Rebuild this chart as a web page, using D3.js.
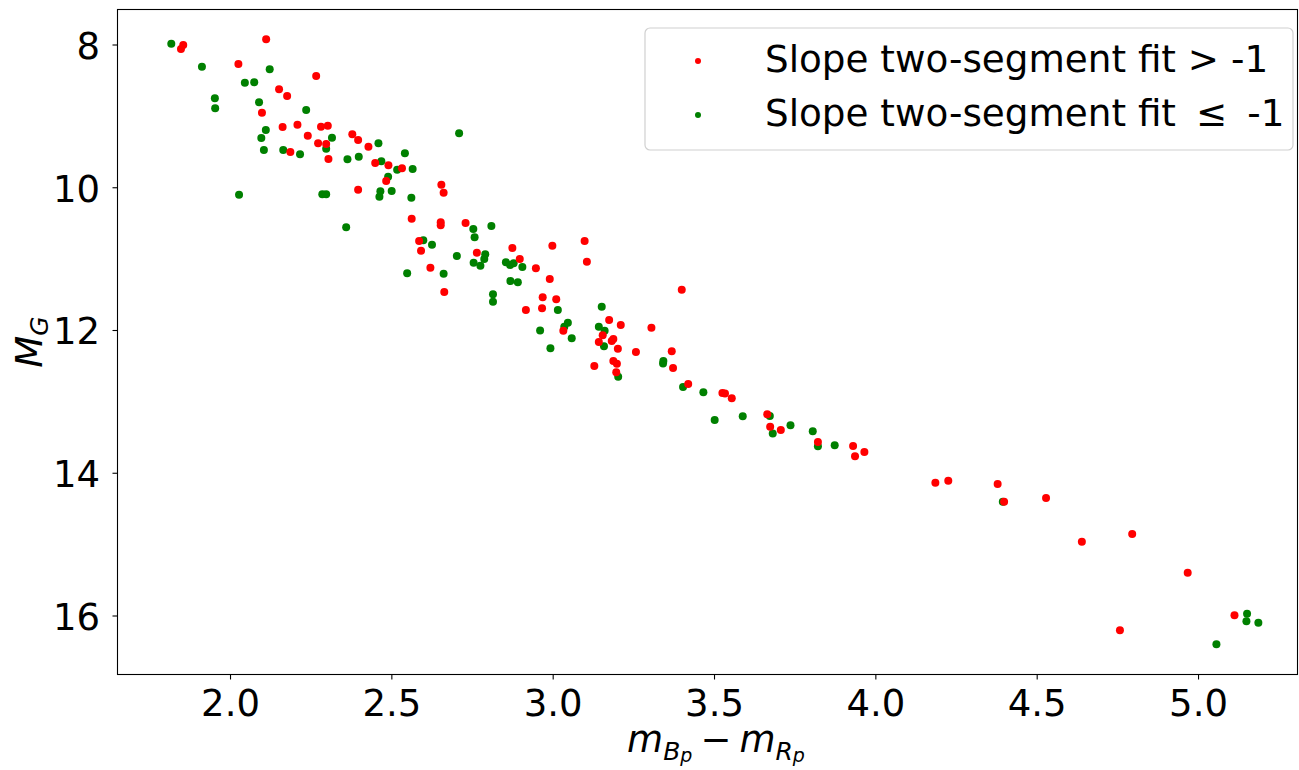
<!DOCTYPE html>
<html>
<head>
<meta charset="utf-8">
<script src="https://cdn.jsdelivr.net/npm/d3@7"></script>
<style>
  html, body { margin: 0; padding: 0; background: #fff; }
  svg { display: block; font-family: "DejaVu Sans", sans-serif; }
</style>
</head>
<body>
<svg id="chart" width="1299" height="770"></svg>
<script>
// ---- data (colour index m_Bp - m_Rp, absolute magnitude M_G) ----
const redX = [1.848,1.855,2.112,2.026,2.267,2.152,2.177,2.099,2.163,2.209,2.282,2.303,2.241,2.273,2.298,2.187,2.305,2.379,2.397,2.429,2.450,2.491,2.533,2.484,2.397,2.655,2.662,2.563,2.653,2.653,2.730,2.586,2.592,2.765,2.875,2.898,2.948,2.999,3.099,3.106,2.621,2.664,2.991,2.969,3.011,2.967,2.917,3.400,3.175,3.211,3.306,3.033,3.155,3.143,3.188,3.183,3.202,3.258,3.369,3.129,3.188,3.199,3.197,3.373,3.420,3.526,3.534,3.555,3.665,3.674,3.707,3.822,3.931,3.937,3.966,4.186,4.226,4.379,4.399,4.529,4.640,4.796,4.968,4.758,5.113];
const redY = [8.063,8.007,7.927,8.273,8.441,8.628,8.722,8.956,9.156,9.124,9.152,9.138,9.278,9.384,9.394,9.506,9.604,9.258,9.338,9.432,9.660,9.693,9.735,9.913,10.034,9.964,10.076,10.441,10.491,10.533,10.501,10.753,10.889,10.917,10.851,11.005,11.136,10.819,10.753,11.043,11.127,11.468,11.286,11.542,11.570,11.696,11.720,11.436,11.860,11.930,11.968,12.010,12.074,12.168,12.126,12.154,12.262,12.308,12.299,12.505,12.434,12.472,12.593,12.533,12.757,12.883,12.890,12.957,13.181,13.355,13.401,13.569,13.625,13.770,13.710,14.140,14.112,14.158,14.406,14.354,14.966,14.858,15.401,16.208,15.996];

const greenX = [1.818,1.913,2.123,2.046,2.075,1.953,1.954,2.090,2.236,2.111,2.097,2.316,2.298,2.105,2.165,2.217,2.460,2.364,2.399,2.469,2.542,2.518,2.490,2.566,2.710,2.028,2.286,2.298,2.466,2.463,2.501,2.562,2.360,2.754,2.758,2.810,2.599,2.626,2.703,2.791,2.788,2.755,2.776,2.855,2.868,2.879,2.906,2.549,2.662,2.869,2.892,2.815,2.815,3.016,3.047,3.036,2.961,3.152,3.059,2.993,3.143,3.161,3.159,3.203,3.343,3.342,3.404,3.467,3.502,3.589,3.673,3.682,3.737,3.806,3.822,3.874,4.395,5.152,5.150,5.187,5.057];
const greenY = [7.989,8.311,8.347,8.535,8.530,8.754,8.894,8.810,8.918,9.198,9.310,9.306,9.460,9.478,9.478,9.538,9.384,9.608,9.572,9.636,9.524,9.754,9.852,9.744,9.244,10.104,10.099,10.099,10.057,10.132,10.053,10.146,10.561,10.585,10.701,10.543,10.743,10.805,10.963,10.940,11.005,11.057,11.099,11.052,11.089,11.066,11.117,11.206,11.211,11.314,11.332,11.500,11.604,11.720,11.898,11.954,12.007,11.674,12.116,12.257,11.954,12.010,12.229,12.655,12.434,12.470,12.799,12.873,13.261,13.209,13.205,13.450,13.335,13.419,13.630,13.616,14.406,15.975,16.082,16.101,16.402];

const xTicks = [2.0, 2.5, 3.0, 3.5, 4.0, 4.5, 5.0];
const yTicks = [8, 10, 12, 14, 16];
const legendLabels = ["Slope two-segment fit > -1", "Slope two-segment fit \u2264 -1"];
const seriesColors = ["#ff0000", "#008000"];

// ---- layout ----
const svg = d3.select("#chart");
const pLeft = 117.5, pRight = 1297.5, pTop = 9.5, pBottom = 674.5;
const FS = 37;
const LFS = 37.3;

const x = d3.scaleLinear().domain([1.6513, 5.3083]).range([pLeft, pRight]);
const y = d3.scaleLinear().domain([7.5096, 16.8266]).range([pTop, pBottom]);

const toPts = (xs, ys) => xs.map((v, i) => [v, ys[i]]);
const redPts = toPts(redX, redY);
const greenPts = toPts(greenX, greenY);

// points
const gPts = svg.append("g");
gPts.selectAll("circle.g").data(greenPts).enter().append("circle")
  .attr("class", "g")
  .attr("cx", d => x(d[0])).attr("cy", d => y(d[1])).attr("r", 4)
  .attr("fill", seriesColors[1]);
gPts.selectAll("circle.r").data(redPts).enter().append("circle")
  .attr("class", "r")
  .attr("cx", d => x(d[0])).attr("cy", d => y(d[1])).attr("r", 4)
  .attr("fill", seriesColors[0]);

// frame
svg.append("rect").attr("x", pLeft).attr("y", pTop)
  .attr("width", pRight - pLeft).attr("height", pBottom - pTop)
  .attr("fill", "none").attr("stroke", "#000").attr("stroke-width", 1.1);

// x axis
const xAxis = svg.append("g").attr("transform", `translate(0,${pBottom})`)
  .call(d3.axisBottom(x).tickValues(xTicks).tickFormat(d3.format(".1f")).tickSize(5).tickSizeOuter(0));
xAxis.select(".domain").remove();
xAxis.selectAll(".tick line").attr("stroke", "#000").attr("stroke-width", 1.1);
xAxis.selectAll(".tick text").attr("y", 41.5).attr("dy", 0)
  .attr("font-size", FS).attr("font-family", "DejaVu Sans").attr("fill", "#000");

// y axis
const yAxis = svg.append("g").attr("transform", `translate(${pLeft},0)`)
  .call(d3.axisLeft(y).tickValues(yTicks).tickFormat(d3.format("d")).tickSize(5).tickPadding(12.5).tickSizeOuter(0));
yAxis.select(".domain").remove();
yAxis.selectAll(".tick line").attr("stroke", "#000").attr("stroke-width", 1.1);
yAxis.selectAll(".tick text").attr("dy", 13.8)
  .attr("font-size", FS).attr("font-family", "DejaVu Sans").attr("fill", "#000");

// x label: m_{B_p} - m_{R_p}
const xl = svg.append("text").attr("x", 716).attr("y", 752)
  .attr("text-anchor", "middle").attr("font-family", "DejaVu Sans").attr("fill", "#000");
xl.append("tspan").attr("font-style", "italic").attr("font-size", FS).text("m");
xl.append("tspan").attr("font-style", "italic").attr("font-size", 25).attr("dy", 8).text("B");
xl.append("tspan").attr("font-style", "italic").attr("font-size", 19).attr("dy", 2).text("p");
xl.append("tspan").attr("font-size", FS).attr("dy", -10).attr("dx", 8).text("\u2212");
xl.append("tspan").attr("font-style", "italic").attr("font-size", FS).attr("dx", 8).text("m");
xl.append("tspan").attr("font-style", "italic").attr("font-size", 25).attr("dy", 8).text("R");
xl.append("tspan").attr("font-style", "italic").attr("font-size", 19).attr("dy", 2).text("p");

// y label: M_G
const yl = svg.append("text").attr("transform", "translate(41.7,342) rotate(-90)")
  .attr("text-anchor", "middle").attr("font-family", "DejaVu Sans").attr("fill", "#000");
yl.append("tspan").attr("font-style", "italic").attr("font-size", FS).text("M");
yl.append("tspan").attr("font-style", "italic").attr("font-size", 25).attr("dy", 6.5).text("G");

// legend
const lg = svg.append("g");
lg.append("rect").attr("x", 645).attr("y", 28).attr("width", 648).attr("height", 122)
  .attr("rx", 5).attr("ry", 5).attr("fill", "#fff").attr("fill-opacity", 0.8)
  .attr("stroke", "#d0d0d0").attr("stroke-width", 1.2);
const baselines = [71.7, 126];
const markY = [61, 115];
legendLabels.forEach((lab, i) => {
  lg.append("circle").attr("cx", 698).attr("cy", markY[i]).attr("r", 3).attr("fill", seriesColors[i]);
  const t = lg.append("text").attr("x", 765).attr("y", baselines[i])
    .attr("font-size", LFS).attr("font-family", "DejaVu Sans").attr("fill", "#000");
  if (i === 0) {
    t.text(lab);
  } else {
    t.append("tspan").text("Slope two-segment fit");
    t.append("tspan").attr("dx", 20).text("\u2264");
    t.append("tspan").attr("dx", 20).text("-1");
  }
});
</script>
</body>
</html>
